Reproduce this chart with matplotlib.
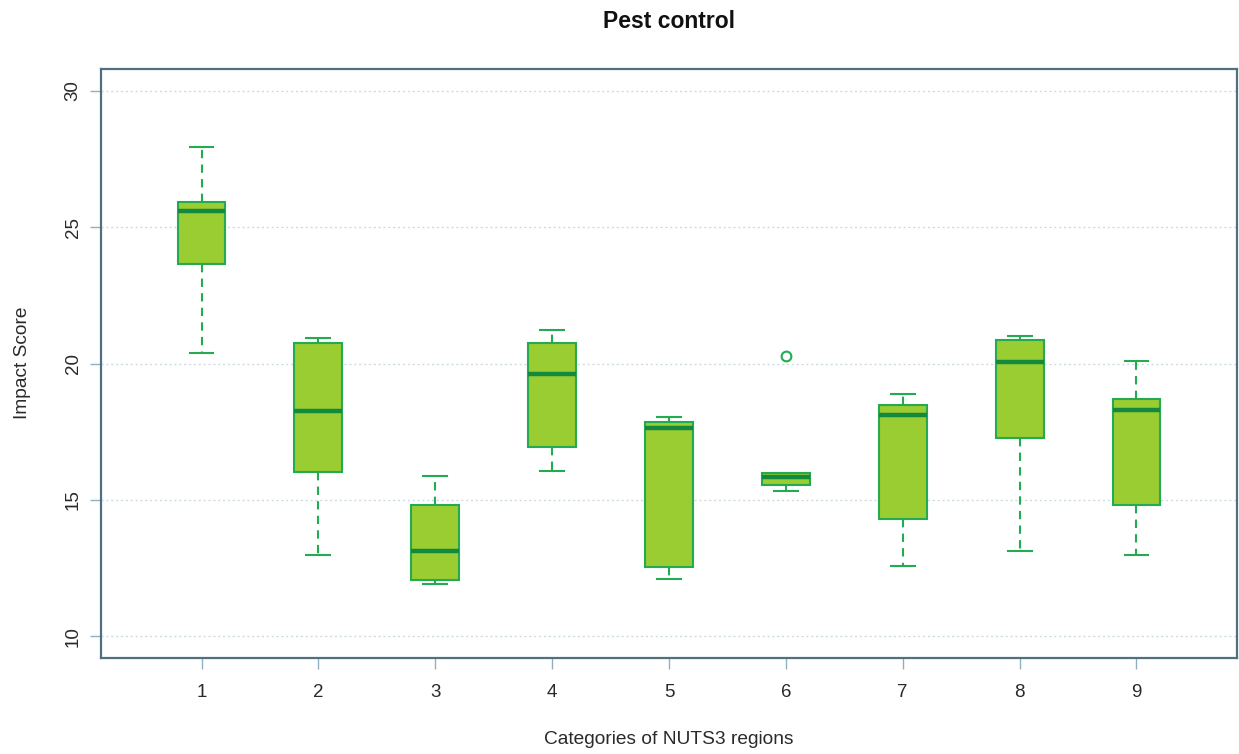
import matplotlib
matplotlib.use("Agg")
import matplotlib.pyplot as plt

plt.rcParams['font.family'] = ['Liberation Sans', 'DejaVu Sans']

categories = ["1", "2", "3", "4", "5", "6", "7", "8", "9"]
whisker_low = [20.38, 12.99, 11.90, 16.07, 12.08, 15.31, 12.57, 13.12, 12.99]
q1 = [23.64, 16.01, 12.05, 16.95, 12.52, 15.56, 14.30, 17.28, 14.82]
median = [25.58, 18.26, 13.11, 19.60, 17.64, 15.85, 18.12, 20.04, 18.31]
q3 = [25.94, 20.74, 14.82, 20.75, 17.86, 15.97, 18.48, 20.86, 18.69]
whisker_high = [27.95, 20.94, 15.88, 21.22, 18.04, 15.97, 18.87, 21.01, 20.11]
outliers = [[], [], [], [], [], [20.27], [], [], []]

title = "Pest control"
xlabel = "Categories of NUTS3 regions"
ylabel = "Impact Score"
yticks = [10, 15, 20, 25, 30]

fill_c = '#9ACD32'
edge_c = '#24aa50'
med_c = '#13893d'
frame_c = '#4f707c'
text_c = '#2a2a2a'

fig = plt.figure(figsize=(12.39, 7.54), dpi=100)
ax = fig.add_axes([101/1239, 96/754, 1136/1239, 589/754])

stats = []
for i, c in enumerate(categories):
    stats.append(dict(label=c, whislo=whisker_low[i], q1=q1[i], med=median[i],
                      q3=q3[i], whishi=whisker_high[i], fliers=outliers[i]))

positions = list(range(1, len(categories) + 1))
ax.bxp(stats, positions=positions, widths=0.41, patch_artist=True,
       showfliers=True,
       boxprops=dict(facecolor=fill_c, edgecolor=edge_c, linewidth=1.5),
       medianprops=dict(color=med_c, linewidth=3.2, solid_capstyle='butt'),
       whiskerprops=dict(color=edge_c, linewidth=1.5, linestyle=(0, (4, 3))),
       capprops=dict(color=edge_c, linewidth=1.5),
       capwidths=0.205,
       flierprops=dict(marker='o', markerfacecolor='none', markeredgecolor=edge_c,
                       markersize=7, markeredgewidth=1.5),
       zorder=3)

for y in yticks:
    ax.axhline(y, color='#cddbe3', linestyle=(0, (1.5, 2)), linewidth=1.0, zorder=1)

ax.set_xlim(0.14, 9.86)
ax.set_ylim(9.2, 30.8)
ax.set_xticks(positions)
ax.set_xticklabels(categories)
ax.set_yticks(yticks)
ax.set_yticklabels([str(v) for v in yticks], rotation=90, va='center')

for s in ax.spines.values():
    s.set_color(frame_c)
    s.set_linewidth(1.6)

ax.tick_params(axis='both', colors='#8fb0c0', labelcolor=text_c, labelsize=13.5,
               length=8, width=1.0)
ax.tick_params(axis='x', pad=11)
ax.tick_params(axis='y', pad=6)

fig.text(0.5 * (101 + 1237) / 1239, 1 - 22/754, title, ha='center', va='center',
         fontsize=16.5, fontweight='bold', color='#111111')
fig.text(0.5 * (101 + 1237) / 1239, 1 - 740/754, xlabel, ha='center', va='center',
         fontsize=13.8, color=text_c)
fig.text(23/1239, 1 - 363/754, ylabel, ha='center', va='center', rotation=90,
         fontsize=13.8, color=text_c)

fig.savefig("out.png", dpi=100, facecolor='white')
